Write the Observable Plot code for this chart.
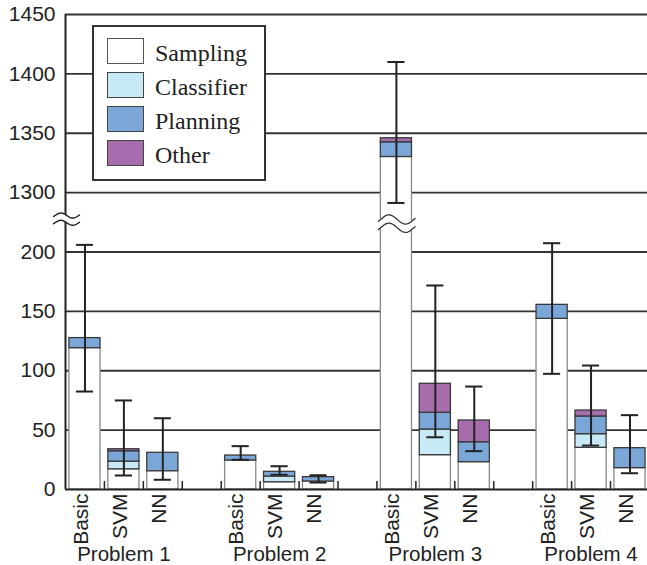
<!DOCTYPE html>
<html><head><meta charset="utf-8">
<script src="https://cdn.jsdelivr.net/npm/d3@7"></script>
<script src="https://cdn.jsdelivr.net/npm/@observablehq/plot@0.6"></script>
<style>
body{margin:0;background:#fff}
#wrap{position:relative;width:647px;height:565px}
#legend{position:absolute;left:92px;top:25px;width:170px;height:152px;border:2px solid #333;background:#fff;font-family:"Liberation Serif","DejaVu Serif",serif;font-size:24px;color:#222}
.row{position:absolute;left:13px;height:26px;display:flex;align-items:center}
.sw{width:35px;height:24px;border:1.5px solid #444;margin-right:11px;flex:none}
.lab{line-height:26px;padding-top:3px}
</style></head><body><div id="wrap"></div>
<script>
const problems = ["Problem 1", "Problem 2", "Problem 3", "Problem 4"];
const methods = ["Basic", "SVM", "NN"];
const components = ["Sampling", "Classifier", "Planning", "Other"];
const componentColors = ["#ffffff", "#c8eaf7", "#7ba7d8", "#a66cab"];
// values per bar, order: P1 Basic, SVM, NN, P2 ..., P3 ..., P4 ...
const sampling   = [119, 17, 15.4,  24.4, 6.1, 6.7,  1330, 28.9, 23,    143.7, 35.1, 18];
const classifier = [0,   6.5, 0,    0,    4.8, 0,    0,    21.6, 0,     0,     11.5, 0];
const planning   = [8.5, 8.7, 15.5, 4.2,  4.0, 3.7,  12.4, 14.1, 16.8,  11.8,  14.9, 16.8];
const other      = [0,   1.7, 0,    0,    0,   0,    3.4,  24.4, 18.3,  0,     5,    0];
const errLow     = [82.5, 11.8, 8.2,  25, 12.4, 5.9,  1291.3, 44, 32.3,  97.4, 37, 13.7];
const errHigh    = [206,  75,   60,   36.5, 19.6, 12, 1410, 171.8, 86.7, 207.4, 104.4, 62.6];
const yTickValues = [0, 50, 100, 150, 200, 1300, 1350, 1400, 1450];

// broken axis: values above breakTo are shifted down to start at breakFrom
const breakFrom = 250, breakTo = 1300;
const f = v => v > breakFrom ? v - (breakTo - breakFrom) : v;
const yTop = f(1450);

const series = [sampling, classifier, planning, other];
const segs = [], errs = [];
for (let i = 0; i < sampling.length; i++) {
  const p = Math.floor(i / 3), m = i % 3, slot = 4 * p + m;
  let base = 0;
  components.forEach((c, k) => {
    const v = series[k][i];
    if (v > 0) { segs.push({slot, comp: c, y1: f(base), y2: f(base + v)}); base += v; }
  });
  errs.push({slot, lo: f(errLow[i]), hi: f(errHigh[i])});
}
const slots = [];
problems.forEach((pr, p) => methods.forEach((m, j) => slots.push({slot: 4 * p + j, method: m})));
const nSlots = 4 * problems.length - 1;

// break decoration
const ts = d3.range(0, 1.0001, 0.025);
const wave = t => Math.sin(2 * Math.PI * t * 1.1 - 0.4);
const axisBreak = ts.map(t => ({x: -0.31 + t * 0.67, lo: 224.6 + 2.1 * wave(t), hi: 230.7 + 2.1 * wave(t)}));
const barBreakSlot = errs[6].slot;
const barBreak = ts.map(t => ({x: barBreakSlot + 0.04 + t * 0.94, lo: 220.4 + 3.9 * wave(t), hi: 227.4 + 3.9 * wave(t)}));

const tickPos = yTickValues.map(f);
const fmt = d => String(d > 200 ? d + (breakTo - breakFrom) : d);

const chart = Plot.plot({
  width: 647, height: 565,
  marginLeft: 65, marginRight: 0, marginTop: 14, marginBottom: 76,
  style: {fontFamily: "Liberation Sans, Arial, sans-serif", color: "#222", background: "white", overflow: "visible"},
  x: {domain: [0, nSlots - 0.05], axis: null},
  y: {domain: [0, yTop], axis: null},
  color: {domain: components, range: componentColors},
  marks: [
    Plot.ruleY(tickPos.filter(d => d > 0), {stroke: "#333", strokeWidth: 1.8}),
    Plot.rect(segs.filter(d => d.comp === "Sampling"), {x1: d => d.slot + 0.1, x2: d => d.slot + 0.9, y1: "y1", y2: "y2", fill: "comp", stroke: "#888", strokeWidth: 1.3}),
    Plot.rect(segs.filter(d => d.comp !== "Sampling"), {x1: d => d.slot + 0.1, x2: d => d.slot + 0.9, y1: "y1", y2: "y2", fill: "comp", stroke: "#3a3a3a", strokeWidth: 1.3}),
    Plot.ruleX([0], {y1: 0, y2: yTop, stroke: "#222", strokeWidth: 2}),
    Plot.areaY(axisBreak, {x: "x", y1: "lo", y2: "hi", fill: "white"}),
    Plot.line(axisBreak, {x: "x", y: "lo", stroke: "#222", strokeWidth: 1.4}),
    Plot.line(axisBreak, {x: "x", y: "hi", stroke: "#222", strokeWidth: 1.4}),
    Plot.areaY(barBreak, {x: "x", y1: "lo", y2: "hi", fill: "white"}),
    Plot.line(barBreak, {x: "x", y: "lo", stroke: "#333", strokeWidth: 1.3}),
    Plot.line(barBreak, {x: "x", y: "hi", stroke: "#333", strokeWidth: 1.3}),
    Plot.ruleX(errs, {x: d => d.slot + 0.5, y1: "lo", y2: "hi", stroke: "#222", strokeWidth: 2}),
    Plot.ruleY(errs, {y: "lo", x1: d => d.slot + 0.28, x2: d => d.slot + 0.72, stroke: "#222", strokeWidth: 2}),
    Plot.ruleY(errs, {y: "hi", x1: d => d.slot + 0.28, x2: d => d.slot + 0.72, stroke: "#222", strokeWidth: 2}),
    Plot.ruleX(d3.range(1, nSlots), {y1: 0, y2: 6.7, stroke: "#222", strokeWidth: 1.5}),
    Plot.ruleY([0], {stroke: "#222", strokeWidth: 2}),
    Plot.text(tickPos, {x: 0, y: d => d, text: fmt, textAnchor: "end", dx: -10, fontSize: 21, fill: "#222"}),
    Plot.text(slots, {x: d => d.slot + 0.5, y: 0, text: "method", rotate: -90, textAnchor: "end", lineAnchor: "middle", dy: 4, dx: -4, fontSize: 21, fill: "#222", ariaLabel: "method-labels"}),
    Plot.text(problems, {x: (d, i) => 4 * i + 1.5, y: 0, text: d => d, dy: 65, lineAnchor: "middle", fontSize: 20.5, fill: "#222"})
  ]
});
// condense the rotated method labels along their length (the original uses a condensed face)
chart.querySelectorAll('g[aria-label="method-labels"] text').forEach(t => {
  const tr = t.getAttribute("transform") || "";
  t.setAttribute("transform", tr + " scale(0.8,1)");
});
const wrap = document.getElementById("wrap");
wrap.appendChild(chart);

const legend = document.createElement("div");
legend.id = "legend";
components.forEach((c, k) => {
  const row = document.createElement("div");
  row.className = "row";
  row.style.top = (11 + k * 34) + "px";
  const sw = document.createElement("div");
  sw.className = "sw";
  sw.style.background = componentColors[k];
  sw.style.borderColor = k === 0 ? "#555" : "#444";
  const lab = document.createElement("span");
  lab.className = "lab";
  lab.textContent = c;
  row.appendChild(sw); row.appendChild(lab);
  legend.appendChild(row);
});
wrap.appendChild(legend);
</script></body></html>
